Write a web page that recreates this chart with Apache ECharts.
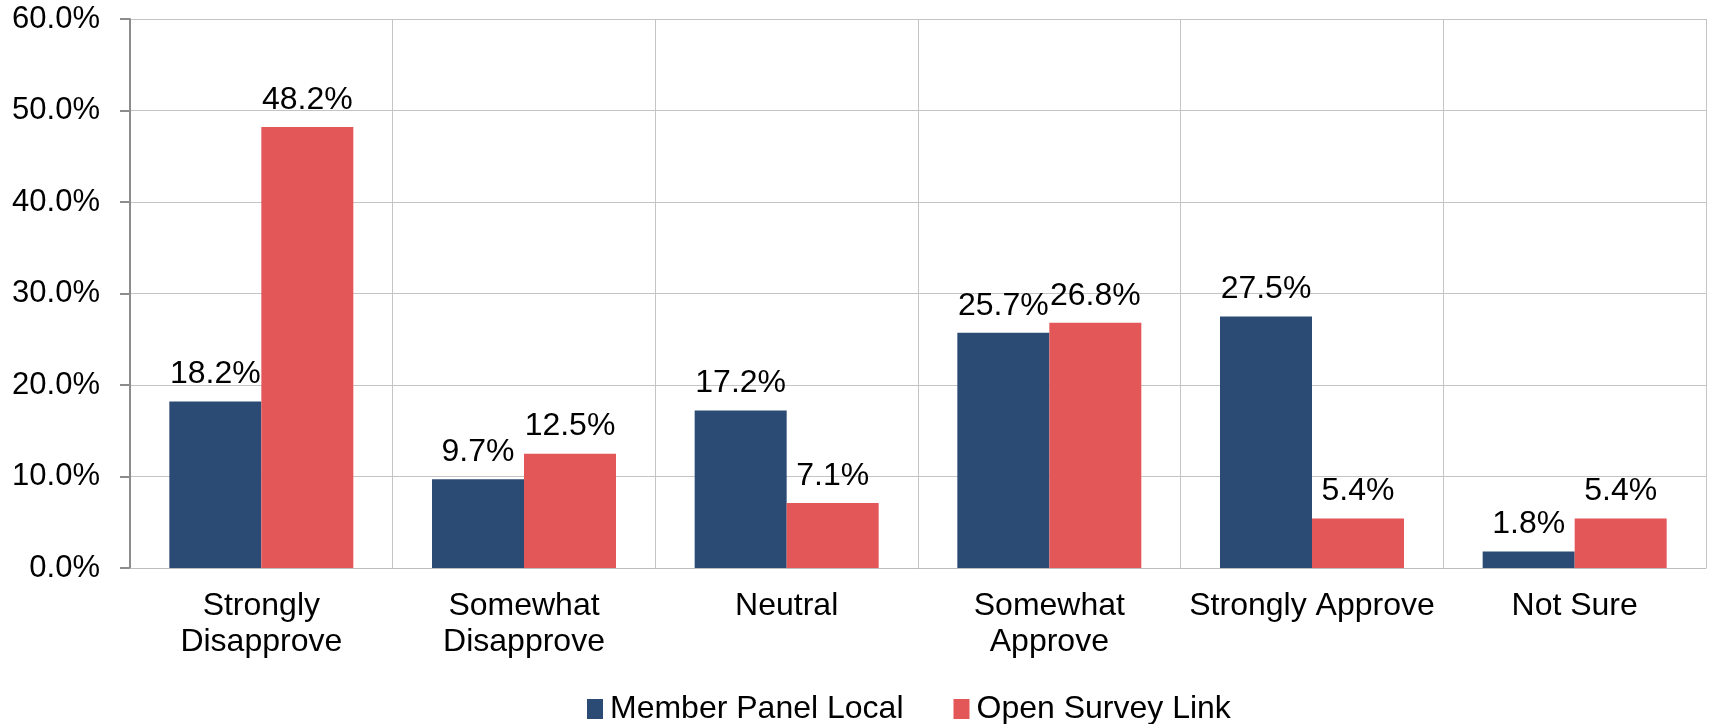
<!DOCTYPE html>
<html>
<head>
<meta charset="utf-8">
<script src="https://cdn.jsdelivr.net/npm/echarts@6/dist/echarts.min.js"></script>
<style>
  html, body { margin: 0; padding: 0; background: #fff; }
  #chart { width: 1709px; height: 724px; }
</style>
</head>
<body>
<div id="chart"></div>
<script>
const categories = ['Strongly\nDisapprove', 'Somewhat\nDisapprove', 'Neutral', 'Somewhat\nApprove', 'Strongly Approve', 'Not Sure']
const memberPanel = [18.2, 9.7, 17.2, 25.7, 27.5, 1.8]
const openSurvey = [48.2, 12.5, 7.1, 26.8, 5.4, 5.4]
const seriesNames = ['Member Panel Local', 'Open Survey Link']

const font = 'Liberation Sans, Arial, sans-serif'
const chart = echarts.init(document.getElementById('chart'))

const barLabel = {
  show: true,
  position: 'top',
  distance: 11,
  fontFamily: font,
  fontSize: 32,
  color: '#000',
  formatter: p => p.value.toFixed(1) + '%',
}

chart.setOption({
  animation: false,
  textStyle: { fontFamily: font },
  grid: { left: 130, right: 3, top: 19, bottom: 156 },
  legend: {
    left: 582,
    top: 688,
    itemWidth: 16,
    itemHeight: 20,
    itemGap: 50,
    icon: 'rect',
    textStyle: { fontFamily: font, fontSize: 32, color: '#000', padding: [0, 0, 0, 2] },
    data: seriesNames,
  },
  xAxis: {
    type: 'category',
    data: categories,
    axisLine: { lineStyle: { color: '#bdbdbd', width: 1 } },
    axisTick: { show: false },
    splitLine: { show: true, lineStyle: { color: '#c4c4c4', width: 1 } },
    axisLabel: { fontFamily: font, fontSize: 32, color: '#000', lineHeight: 36, margin: 20, interval: 0 },
  },
  yAxis: {
    type: 'value',
    min: 0,
    max: 60,
    interval: 10,
    axisLine: { show: true, lineStyle: { color: '#8c8c8c', width: 2 } },
    axisTick: { show: true, length: 10, lineStyle: { color: '#8c8c8c', width: 2 } },
    splitLine: { lineStyle: { color: '#c4c4c4', width: 1 } },
    axisLabel: { fontFamily: font, fontSize: 31, color: '#000', margin: 30, formatter: v => v.toFixed(1) + '%' },
  },
  series: [
    {
      name: seriesNames[0],
      type: 'bar',
      data: memberPanel,
      barWidth: 92,
      barGap: '0%',
      itemStyle: { color: '#2b4a74' },
      label: barLabel,
    },
    {
      name: seriesNames[1],
      type: 'bar',
      data: openSurvey,
      barWidth: 92,
      barGap: '0%',
      itemStyle: { color: '#e45758' },
      label: barLabel,
    },
  ],
})
</script>
</body>
</html>
